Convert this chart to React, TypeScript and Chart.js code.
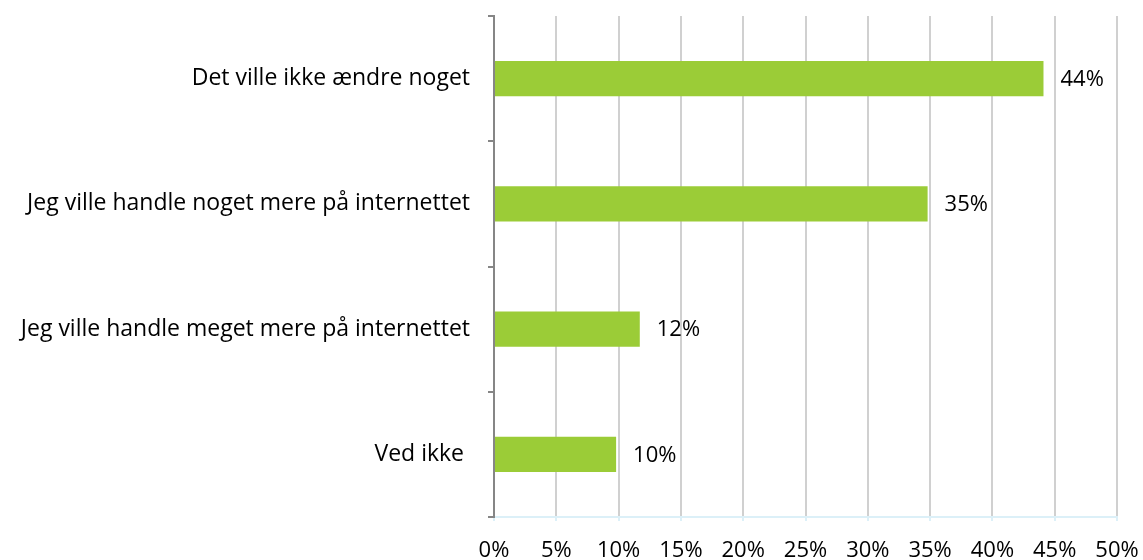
import React, { useEffect, useRef } from "react";
import { Chart, registerables } from "chart.js";
Chart.register(...registerables);

const categories = [
  "Det ville ikke ændre noget",
  "Jeg ville handle noget mere på internettet",
  "Jeg ville handle meget mere på internettet",
  "Ved ikke ",
];
const values = [44.1, 34.8, 11.7, 9.8];
const valueLabels = ["44%", "35%", "12%", "10%"];
const xTicks = [0, 5, 10, 15, 20, 25, 30, 35, 40, 45, 50];

const FONT = "'Open Sans'";

const labelPlugin = {
  id: "barLabels",
  afterDatasetsDraw(chart: any) {
    const ctx = chart.ctx;
    const meta = chart.getDatasetMeta(0);
    ctx.save();
    ctx.font = `22px ${FONT}`;
    ctx.fillStyle = "#000";
    ctx.textAlign = "left";
    ctx.textBaseline = "middle";
    meta.data.forEach((bar: any, i: number) => {
      ctx.fillText(valueLabels[i], bar.x + 17, bar.y + 1);
    });
    ctx.restore();
  },
};

export default function App() {
  const ref = useRef<HTMLCanvasElement>(null);
  useEffect(() => {
    if (!ref.current) return;
    const chart = new Chart(ref.current, {
      type: "bar",
      data: {
        labels: categories,
        datasets: [
          {
            data: values,
            backgroundColor: "#9bcc37",
            categoryPercentage: 0.56,
            barPercentage: 0.5,
          },
        ],
      },
      options: {
        indexAxis: "y",
        animation: false,
        responsive: false,
        layout: { padding: { top: 16, right: 26, left: 0, bottom: 0 } },
        plugins: { legend: { display: false }, tooltip: { enabled: false } },
        scales: {
          x: {
            min: 0,
            max: 50,
            afterBuildTicks(scale: any) {
              scale.ticks = xTicks.map((v) => ({ value: v }));
            },
            afterFit(scale: any) {
              scale.height = 43;
              scale.paddingLeft = 0;
              scale.paddingRight = 0;
            },
            ticks: {
              callback: (v: any) => `${v}%`,
              font: { family: FONT, size: 22 },
              color: "#000",
              padding: 17,
              maxRotation: 0,
              autoSkip: false,
            },
            grid: {
              color: "#d0d0d0",
              lineWidth: 2,
              tickLength: 4,
              tickColor: "#dcf0f8",
            },
            border: { color: "#dcf0f8", width: 2 },
          },
          y: {
            afterFit(scale: any) {
              scale.width = 494;
              scale.paddingTop = 0;
              scale.paddingBottom = 0;
            },
            ticks: {
              font: { family: FONT, size: 23 },
              color: "#000",
              padding: 18,
            },
            grid: {
              offset: true,
              drawOnChartArea: false,
              tickLength: 6,
              color: "#868686",
              lineWidth: 2,
            },
            border: { color: "#868686", width: 2 },
          },
        },
      },
      plugins: [labelPlugin],
    });
    return () => chart.destroy();
  }, []);
  return (
    <div style={{ position: "absolute", left: 0, top: 0, width: 1143, height: 560, background: "#fff" }}>
      <canvas ref={ref} width={1143} height={560} />
    </div>
  );
}
